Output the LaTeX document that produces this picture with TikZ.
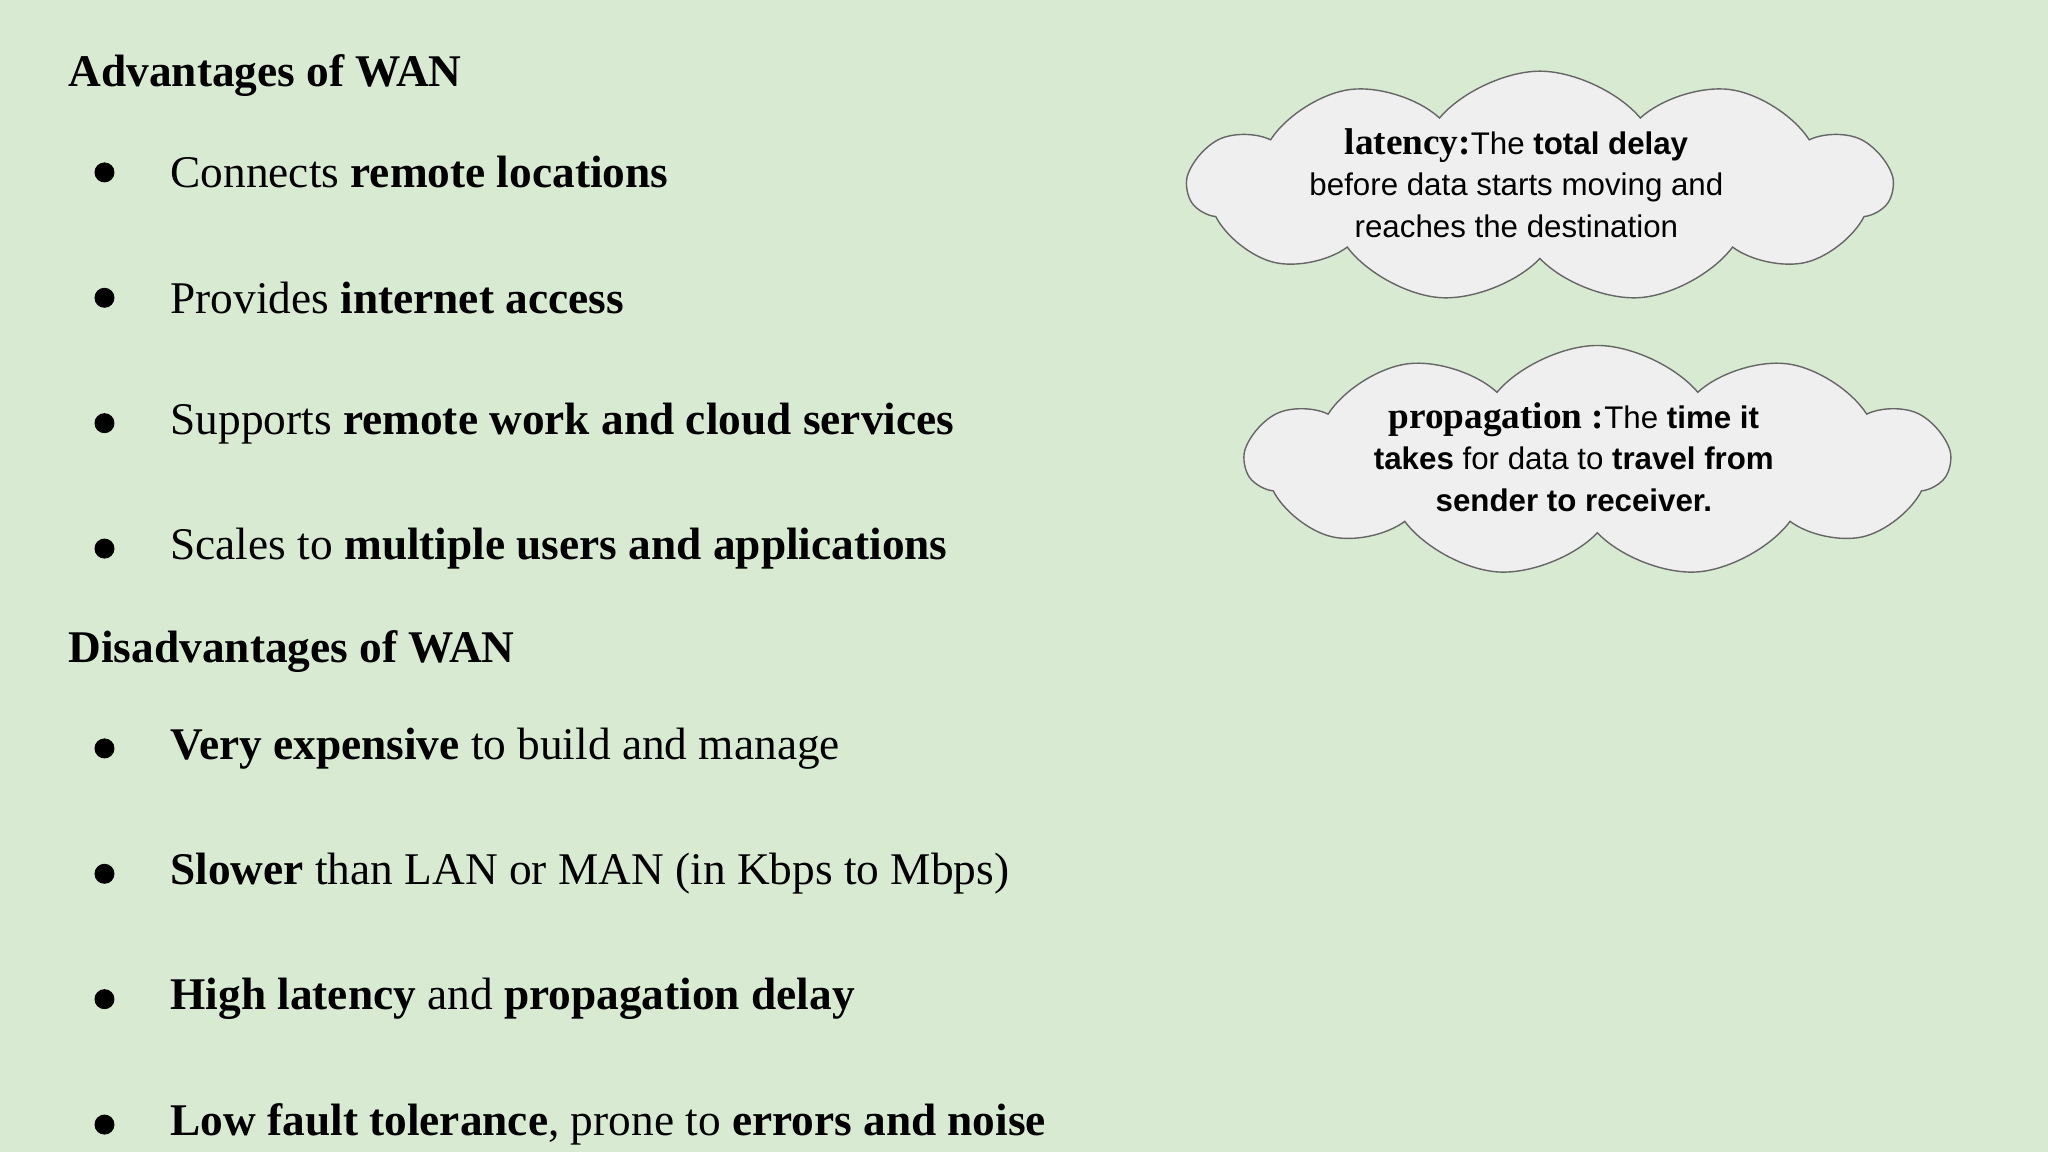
\documentclass[tikz,border=0pt]{standalone}
\usepackage{fontspec}
\setmainfont{Liberation Serif}
\newfontfamily\cloudsans{Liberation Sans}
\usetikzlibrary{shapes.symbols}
\definecolor{bg}{HTML}{D9EAD3}
\definecolor{cloudfill}{HTML}{EFEFEF}
\begin{document}
\begin{tikzpicture}[x=0.013061cm,y=-0.013061cm,
  head/.style={anchor=west,inner sep=0,font=\fontsize{12.9}{14}\selectfont\bfseries},
  item/.style={anchor=west,inner sep=0,font=\fontsize{12.9}{14}\selectfont},
  dot/.style={circle,fill=black,inner sep=0,minimum size=0.2cm},
  cloudbox/.style={cloud,cloud puffs=11,cloud puff arc=100,aspect=3,draw=black!60,fill=cloudfill,
    minimum width=538*0.013061cm,minimum height=177*0.013061cm,inner sep=0},
  cloudtext/.style={align=center,inner sep=0,font=\cloudsans\fontsize{8.9}{11.8}\selectfont},
  cserif/.style={}]
\fill[bg] (0,0) rectangle (1568,882);
\node[head] (h1) at (52,58) {Advantages of WAN};
\foreach \y/\t [count=\i] in {132/{Connects \textbf{remote locations}},228/{Provides \textbf{internet access}},324/{Supports \textbf{remote work and cloud services}},420/{Scales to \textbf{multiple users and applications}}}{
  \node[dot] (ad\i) at (80,\y) {};
  \node[item] (at\i) at (130,\y) {\t};
}
\node[head] (h2) at (52,499) {Disadvantages of WAN};
\foreach \y/\t [count=\i] in {573/{\textbf{Very expensive} to build and manage},669/{\textbf{Slower} than LAN or MAN (in Kbps to Mbps)},765/{\textbf{High latency} and \textbf{propagation delay}},861/{\textbf{Low fault tolerance}, prone to \textbf{errors and noise}}}{
  \node[dot] (dd\i) at (80,\y) {};
  \node[item] (dt\i) at (130,\y) {\t};
}
\node[cloudbox] (c1) at (1179,143) {};
\node[cloudtext] (t1) at (1161,140) {{\rmfamily\bfseries\fontsize{10.6}{11.8}\selectfont latency:}The \textbf{total delay}\\before data starts moving and\\reaches the destination};
\node[cloudbox] (c2) at (1223,353) {};
\node[cloudtext] (t2) at (1205,350) {{\rmfamily\bfseries\fontsize{10.6}{11.8}\selectfont propagation :}The \textbf{time it}\\\textbf{takes} for data to \textbf{travel from}\\\textbf{sender to receiver.}};
\end{tikzpicture}
\end{document}
